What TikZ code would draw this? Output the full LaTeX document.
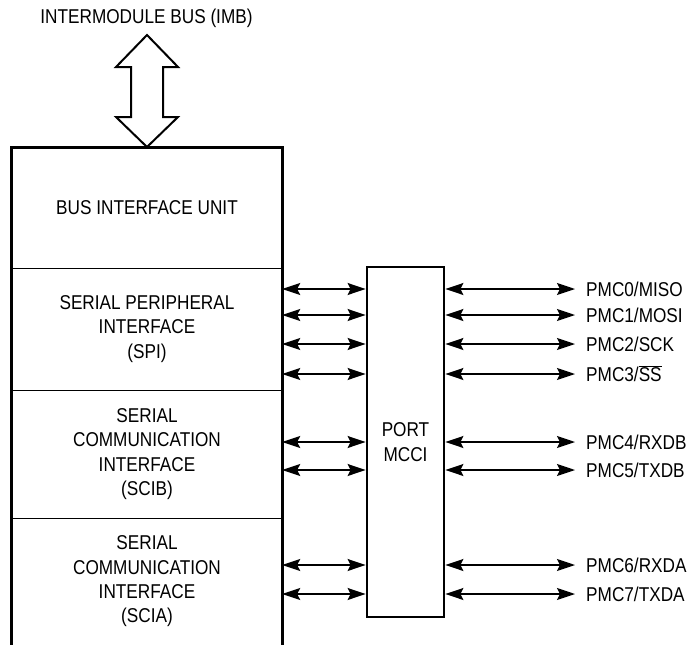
\documentclass[tikz,border=0pt]{standalone}
\usepackage{fontspec}
\setmainfont{Liberation Sans}[FakeStretch=0.86]
\usetikzlibrary{arrows.meta}
\begin{document}
\begin{tikzpicture}[x=1pt,y=-1pt,
  txt/.style={font=\fontsize{20}{24.3}\selectfont, align=center, inner sep=0pt},
  sect/.style={txt, minimum width=270pt},
  border/.style={line width=2.8pt, line join=miter},
  divider/.style={line width=1.2pt},
  portbox/.style={draw, line width=2.8pt, minimum width=77pt, minimum height=350pt, txt},
  pinlabel/.style={font=\fontsize{20}{24.3}\selectfont, anchor=west, inner xsep=11pt, inner ysep=0pt, text height=14.3pt, text depth=0pt},
  biarrow/.style={line width=1.4pt, {Stealth[length=18pt,width=12pt,inset=3pt]}-{Stealth[length=18pt,width=12pt,inset=3pt]}},
  busarrow/.style={line width=2pt, line join=miter}
]
\useasboundingbox (0,0) rectangle (691,645);

% title
\node[txt] (imb) at (146.5,18) {INTERMODULE BUS (IMB)};

% sections of the module block
\node[sect, minimum height=120pt] (biu) at (147,208) {BUS INTERFACE UNIT};
\node[sect, minimum height=122pt] (spi) at (147,329) {SERIAL PERIPHERAL\\INTERFACE\\(SPI)};
\node[sect, minimum height=128pt] (scib) at (147,454) {SERIAL\\COMMUNICATION\\INTERFACE\\(SCIB)};
\node[sect, minimum height=127pt] (scia) at (147,581.5) {SERIAL\\COMMUNICATION\\INTERFACE\\(SCIA)};

\draw[divider] (biu.south west) -- (biu.south east);
\draw[divider] (spi.south west) -- (spi.south east);
\draw[divider] (scib.south west) -- (scib.south east);
\draw[border] (scia.south west) -- (biu.north west) -- (biu.north east) -- (scia.south east);

% bus arrow
\draw[busarrow] (147,35) -- (178,67) -- (163,67) -- (163,117) -- (178,117) -- (147,147)
  -- (116,117) -- (131,117) -- (131,67) -- (116,67) -- cycle;

% port
\node[portbox] (port) at (405.5,442) {PORT\\MCCI};

% pin labels
\node[pinlabel] (p0) at (575,289) {PMC0/MISO};
\node[pinlabel] (p1) at (575,315) {PMC1/MOSI};
\node[pinlabel] (p2) at (575,344) {PMC2/SCK};
\node[pinlabel] (p3) at (575,374) {PMC3/$\overline{\mbox{SS}}$};
\node[pinlabel] (p4) at (575,442) {PMC4/RXDB};
\node[pinlabel] (p5) at (575,470) {PMC5/TXDB};
\node[pinlabel] (p6) at (575,565) {PMC6/RXDA};
\node[pinlabel] (p7) at (575,594) {PMC7/TXDA};

% connectors
\foreach \p in {p0,p1,p2,p3}{
  \draw[biarrow] (spi.east |- \p) -- (port.west |- \p);
  \draw[biarrow] (port.east |- \p) -- (\p.west);
}
\foreach \p in {p4,p5}{
  \draw[biarrow] (scib.east |- \p) -- (port.west |- \p);
  \draw[biarrow] (port.east |- \p) -- (\p.west);
}
\foreach \p in {p6,p7}{
  \draw[biarrow] (scia.east |- \p) -- (port.west |- \p);
  \draw[biarrow] (port.east |- \p) -- (\p.west);
}
\end{tikzpicture}
\end{document}
